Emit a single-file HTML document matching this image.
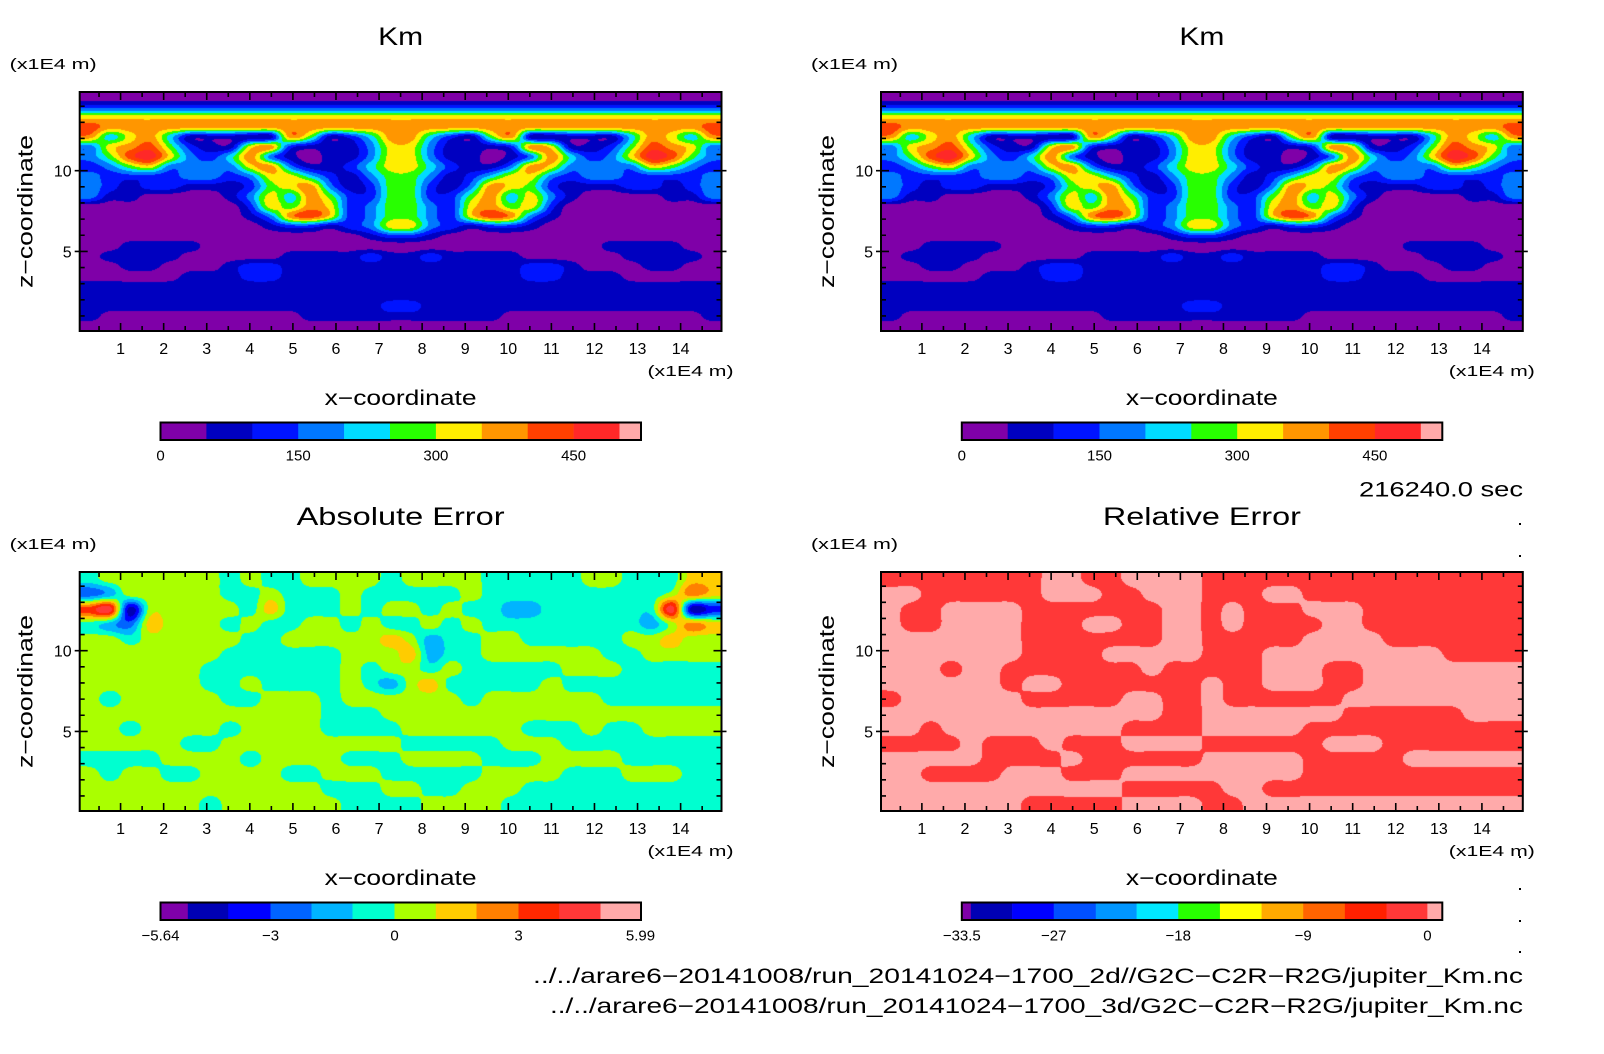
<!DOCTYPE html>
<html><head><meta charset="utf-8">
<style>
html,body{margin:0;padding:0;background:#fff;}
#wrap{position:relative;width:1604px;height:1054px;overflow:hidden;background:#fff;}
canvas{position:absolute;}
svg{position:absolute;left:0;top:0;}
text{font-family:"Liberation Sans",sans-serif;fill:#000;}
</style></head>
<body>
<div id="wrap">
<canvas id="c0"></canvas>
<canvas id="c1"></canvas>
<canvas id="c2"></canvas>
<canvas id="c3"></canvas>
<svg id="svg" width="1604" height="1054"></svg>
</div>
<script>
// ---- data ----
const kmColors = ["#7f00a8","#0000c0","#0014ff","#0078ff","#00dcff","#28ff00","#ffee00","#ff9600","#ff4000","#ff2828","#ffaaaa"];
const absColors = ["#7f00aa","#0000b4","#0000ff","#0064ff","#00b4ff","#00ffd0","#aaff00","#ffcc00","#ff8000","#ff2800","#ff3838","#ffaaaa"];
const relColors = ["#7f00a8","#0000b4","#0000ff","#0050ff","#0096ff","#00e8ff","#28ff00","#ffff00","#ffaa00","#ff6400","#ff2000","#ff3838","#ffaaaa"];
const kmTickLabels = ["0","150","300","450"];
const kmTickBins = [0,3,6,9];
const absBinEdges = [160,187.3,227.7,270,311,352,394,435.3,476,518,558.7,600,640];
const absTickLabels = ["-5.64","-3","0","3","5.99"];
const absTickIdx = [0,3,6,9,12];
const relBinFrac = [155,178,283,389,496,600,706,812,918,1024,1130,1236,1340,1378];
const relTickLabels = ["-33.5","-27","-18","-9","0"];
const relTickIdx = [0,3,6,9,12];
const xTicks = [1,2,3,4,5,6,7,8,9,10,11,12,13,14];
const yTicks = [5,10];
const kmHalf = [
"0000000000000000","2222222222222222","6666666666666666","8777777777777777",
"7467411111751247","3678521167211136","3589632473101136","2356333367311246",
"3222233236642135","3212211125673125","3110000136475225","0000000026576235",
"0000000013786235","0000000001221236","0000000000000012","0011110000000000",
"0111100000111121","0011000122111111","0000011122111111","1111111111111111",
"1111111111111111","1111111111111112","1000000000011111","0000000000000000"];
const absGrid = [
"56666665655666656666555556655577",
"34666665565556555556555555555687",
"9a166666575556566565544555555a12",
"54376665655665655656555555554687",
"66566666556666676455665555566766",
"66666665555556667455666666556666",
"66666655555556566565555566655555",
"66666655655556546755555655555555",
"65666665566656666665666666555555",
"66666666666655566666666666666666",
"66566665666655556666665556556666",
"66666556666666665555566655555555",
"55556666566665556666555666655555",
"65665566665566655555666655566655",
"66666666666655566556665555555555",
"66666656666665555666655555555555"];
const relGrid = [
"11111111001100001111111111111111","00111111000110001110011111111111",
"01100001111111001011100011111111","01100001110011001011110011111111",
"00000001111111001111100001111111","00000001111000001110000000001111",
"00010011111110111110001100000000","00000010011111110110001100000000",
"10000001111100110111111000000000","00000000000000110000000111111000",
"00100000000011110000011111111111","11110111011100001111110001111111",
"00000111101111110000011111000000","00111100011100000000011111111111",
"00000000000011111001111111111111","00000001111100001100000000000000"];

// ---- layout ----
const PW=641.8, PH=239;
const panels=[{x:79.7,y:92},{x:881,y:92},{x:79.7,y:572},{x:881,y:572}];
function xs(p,v){return p.x-2.2+43.08*v;}
function ys(p,v){return p.y+240.1-16.14*v;}
function hex(c){return [parseInt(c.substr(1,2),16),parseInt(c.substr(3,2),16),parseInt(c.substr(5,2),16)];}
function lvl(ch){return parseInt(ch,16);}
function cw(t){ // catmull-rom weights
  const t2=t*t,t3=t2*t;
  return [(-t3+2*t2-t)/2,(3*t3-5*t2+2)/2,(-3*t3+4*t2+t)/2,(t3-t2)/2];
}
function drawField(cid,p,grid,colors,mode){
  const cv=document.getElementById(cid);
  const W=Math.round(PW),H=PH;
  cv.width=W;cv.height=H;cv.style.left=p.x+'px';cv.style.top=p.y+'px';
  const ctx=cv.getContext('2d');const img=ctx.createImageData(W,H);
  const rows=grid.length, cols=32;
  const val=(r,c)=>{r=Math.max(0,Math.min(rows-1,r));c=Math.max(0,Math.min(cols-1,c));
    const s=grid[r]; const cc = (mode==='mirror') ? (c<16?c:31-c) : c; return lvl(s[cc]);};
  const rgb=colors.map(hex);
  for(let py=0;py<H;py++){
    const gy=(py+0.5)/H*rows-0.5; const r0=Math.floor(gy), wy=cw(gy-r0);
    for(let px=0;px<W;px++){
      const gx=(px+0.5)/W*cols-0.5; const c0=Math.floor(gx), wx=cw(gx-c0);
      let v=0;
      for(let a=0;a<4;a++){let s=0;for(let b=0;b<4;b++)s+=wx[b]*val(r0-1+a,c0-1+b);v+=wy[a]*s;}
      let k;
      if(mode==='binary'){k = v>=0.5 ? 11 : 12;} else {k=Math.round(v);}
      k=Math.max(0,Math.min(colors.length-1,k));
      const o=(py*W+px)*4;img.data[o]=rgb[k][0];img.data[o+1]=rgb[k][1];img.data[o+2]=rgb[k][2];img.data[o+3]=255;
    }
  }
  ctx.putImageData(img,0,0);
}
drawField('c0',panels[0],kmHalf,kmColors,'mirror');
drawField('c1',panels[1],kmHalf,kmColors,'mirror');
drawField('c2',panels[2],absGrid,absColors,'full');
drawField('c3',panels[3],relGrid,relColors,'binary');

// ---- svg annotations ----
const svg=document.getElementById('svg');const NS='http://www.w3.org/2000/svg';
function el(tag,attrs,parent){const e=document.createElementNS(NS,tag);for(const k in attrs)e.setAttribute(k,attrs[k]);(parent||svg).appendChild(e);return e;}
function txt(s,x,y,size,anchor,len,parent){const t=el('text',{x:x,y:y,'font-size':size,'text-anchor':anchor||'middle'},parent);if(len){t.setAttribute('textLength',len);t.setAttribute('lengthAdjust','spacingAndGlyphs');}t.textContent=s;return t;}
const titles=["Km","Km","Absolute Error","Relative Error"];
const titleLen=[45,45,208,198];
panels.forEach((p,i)=>{
  const g=el('g',{});
  
  
  const cx=p.x+PW/2;
  const t=txt(titles[i],cx,p.y-47,25,'middle',titleLen[i],g);
  
  
  const u=txt("(x1E4 m)",p.x-70,p.y-23,15,'start',87,g);
  
  
  const fr=el('rect',{x:p.x,y:p.y,width:PW,height:PH,fill:'none',stroke:'#000','stroke-width':2},g);
  
  
  for(let v=0.5;v<15;v+=0.5){
    const X=xs(p,v);const L=(v%1===0)?8:5;
    const tk=el('path',{d:`M${X},${p.y}v${L}M${X},${p.y+PH}v${-L}`,stroke:'#000','stroke-width':1.6},g);
    
    
  }
  for(let v=1;v<15;v++){
    const Y=ys(p,v);const L=(v%5===0)?8:5;const o=(v%5===0)?5:0;
    const tk=el('path',{d:`M${p.x-o},${Y}h${L+o}M${p.x+PW+o},${Y}h${-L-o}`,stroke:'#000','stroke-width':1.6},g);
    
    
  }
  xTicks.forEach(v=>{const l=txt(String(v),xs(p,v),p.y+262,16,'middle',null,g);
    
    });
  yTicks.forEach(v=>{const l=txt(String(v),p.x-8,ys(p,v)+6,16,'end',null,g);
    
    });
  const xu=txt("(x1E4 m)",p.x+PW+12,p.y+284,15,'end',86,g);
  
  
  const xt=txt("x\u2212coordinate",cx,p.y+313,21,'middle',152,g);
  
  
  const yt=txt("z\u2212coordinate",0,0,21,'middle',153,g);
  yt.setAttribute('transform',`translate(${p.x-47},${p.y+119.5}) rotate(-90)`);
  
  
  const cbx=p.x+80.8, cby=p.y+330.5, cbw=480.5, cbh=17.5;
  let edges, colors, labels, idx;
  if(i<2){colors=kmColors;edges=[];for(let k=0;k<=10;k++)edges.push(cbx+k*45.9);edges.push(cbx+cbw);labels=kmTickLabels;idx=kmTickBins;}
  else if(i===2){colors=absColors;edges=absBinEdges.map(e=>e-160+cbx);labels=absTickLabels;idx=absTickIdx;}
  else {colors=relColors;edges=relBinFrac.map(f=>cbx+(f-155)/1223*cbw);labels=relTickLabels;idx=relTickIdx;}
  const cb=el('g',{},g);
  
  
  colors.forEach((c,k)=>{const r=el('rect',{x:edges[k],y:cby,width:edges[k+1]-edges[k]+0.3,height:cbh,fill:c},cb);
    
    });
  el('rect',{x:cbx,y:cby,width:cbw,height:cbh,fill:'none',stroke:'#000','stroke-width':2},cb);
  labels.forEach((s,k)=>{const l=txt(s.replace('-','\u2212'),edges[idx[k]],cby+38,15,'middle',null,cb);
    
    });
});
const tm=txt("216240.0 sec",1523,496.5,21,'end',164);


const f1=txt("../../arare6\u221220141008/run_20141024\u22121700_2d//G2C\u2212C2R\u2212R2G/jupiter_Km.nc",1523,983,21,'end',990);


const f2=txt("../../arare6\u221220141008/run_20141024\u22121700_3d/G2C\u2212C2R\u2212R2G/jupiter_Km.nc",1523,1013,21,'end',973);


[523,555,856,888,920,951].forEach(y=>{const d=el('rect',{x:1519,y:y,width:2,height:2,fill:'#000'});
  
  });
</script>
</body></html>
